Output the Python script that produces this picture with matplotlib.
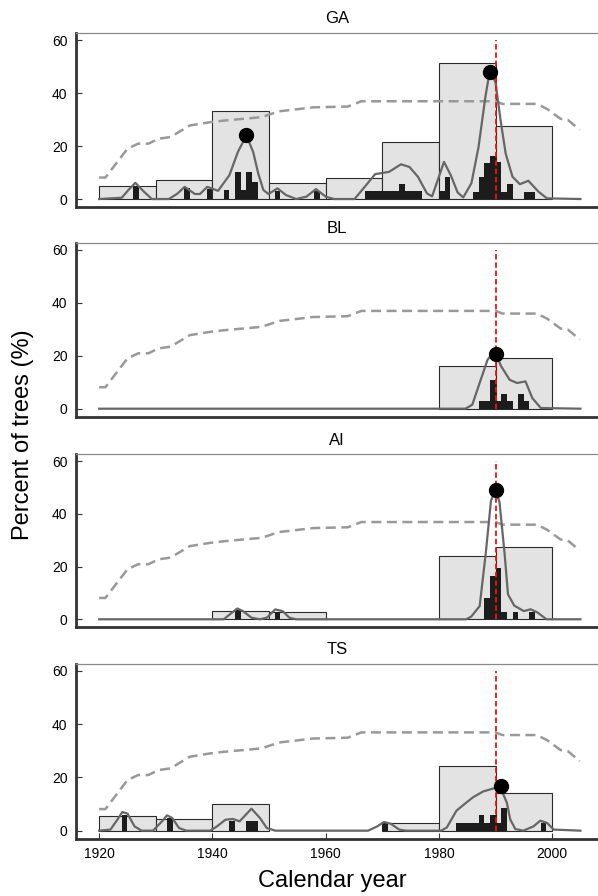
import matplotlib.pyplot as plt

plt.rcParams['font.family'] = ['Liberation Sans', 'DejaVu Sans']

# Sites, top to bottom
sites = ['GA', 'BL', 'AI', 'TS']

# Decadal bins (start year of each 10-year bin)
decades = [1920, 1930, 1940, 1950, 1960, 1970, 1980, 1990]
decade_ga = [4.8, 7.1, 33.1, 5.9, 8.1, 21.5, 51.2, 27.6]
decade_bl = [0, 0, 0, 0, 0, 0, 16.1, 19.3]
decade_ai = [0, 0, 3.3, 2.9, 0, 0, 24.1, 27.5]
decade_ts = [5.6, 4.4, 10.0, 0, 0, 2.9, 24.4, 14.1]

# Annual bars
years_ga = [1926, 1935, 1939, 1942, 1944, 1945, 1946, 1947, 1951, 1958,
            1967, 1968, 1969, 1970, 1971, 1972, 1973, 1974, 1975, 1976,
            1980, 1981, 1986, 1987, 1988, 1989, 1990, 1991, 1992, 1995, 1996]
annual_ga = [5.0, 4.0, 3.8, 3.4, 10.3, 3.4, 10.3, 6.5, 3.1, 3.1,
             3.1, 3.1, 3.1, 3.1, 3.1, 3.1, 5.6, 3.1, 3.1, 3.1,
             3.0, 8.4, 2.8, 8.4, 13.7, 16.3, 14.0, 2.8, 5.7, 2.8, 2.8]
years_bl = [1987, 1988, 1989, 1990, 1991, 1992, 1994, 1995]
annual_bl = [2.8, 2.8, 10.7, 2.8, 5.5, 2.8, 5.5, 2.8]
years_ai = [1944, 1951, 1988, 1989, 1990, 1991, 1993, 1996]
annual_ai = [3.4, 2.9, 8.2, 16.4, 19.5, 2.8, 2.8, 2.8]
years_ts = [1924, 1932, 1943, 1946, 1947, 1970, 1983, 1984, 1985, 1986,
            1987, 1988, 1989, 1990, 1991, 1998]
annual_ts = [5.8, 4.6, 3.5, 3.5, 3.5, 3.2, 2.9, 2.9, 2.9, 2.9,
             5.7, 2.9, 5.7, 2.9, 8.6, 2.9]

# Smoothed curves
curve_x_ga = [1920, 1924, 1925.2, 1926.4, 1927.8, 1929.3, 1932.3, 1933.8, 1935.1, 1936.9,
              1937.8, 1939.1, 1941, 1943, 1944.5, 1946, 1947.2, 1948.1, 1949, 1949.9,
              1951.5, 1953, 1954.8, 1956.6, 1958.3, 1960, 1961.5, 1965.1, 1966.9, 1968.75,
              1971.2, 1973.3, 1974.8, 1976.3, 1977.9, 1978.8, 1980.9, 1982.1, 1983.3, 1984.3,
              1985.75, 1987, 1988.2, 1989, 1990, 1990.9, 1991.8, 1993, 1994.3, 1995.8,
              1997.6, 1999.1, 2005]
curve_y_ga = [0, 0.5, 3.5, 6.1, 3.0, 0, 0, 2.0, 4.6, 1.9,
              1.9, 4.6, 3.1, 9.0, 17.75, 24.0, 17.75, 9.6, 3.4, 1.9,
              4.0, 1.5, 0, 0.9, 3.75, 0.9, 0, 0, 4.6, 9.4,
              10.25, 13.1, 12.1, 8.4, 2.1, 1.0, 14.0, 9.0, 2.5, 0.6,
              6.0, 19.6, 38.4, 48.5, 44.0, 29.6, 17.1, 8.4, 5.6, 6.9,
              2.75, 0.25, 0]
curve_x_bl = [1920, 1984.7, 1985.9, 1987.4, 1988.6, 1989.4, 1990.2, 1991, 1992.5, 1993.8,
              1995.3, 1996.5, 1998, 2005]
curve_y_bl = [0, 0, 1.5, 11.0, 18.5, 20.5, 20.0, 16.0, 10.9, 9.7,
              10.3, 4.0, 0.25, 0]
curve_x_ai = [1920, 1942, 1943.3, 1944.4, 1945.4, 1946.9, 1948.4, 1949.6, 1951.1, 1952.4,
              1953.6, 1954.8, 1984.8, 1985.7, 1987.2, 1988.3, 1989.2, 1990, 1990.7, 1991.6,
              1992.2, 1993.3, 1995, 1996.2, 1997.4, 1999, 2005]
curve_y_ai = [0, 0, 2.25, 4.1, 3.1, 0.6, 0, 0.6, 3.75, 3.1,
              0.6, 0, 0, 1.0, 5.0, 25.5, 45.0, 49.0, 44.5, 25.0,
              9.5, 5.2, 3.1, 3.8, 2.6, 0, 0]
curve_x_ts = [1920, 1922, 1923.2, 1924.1, 1925, 1926.25, 1927.5, 1929.5, 1931.1, 1932,
              1932.9, 1934.1, 1935.4, 1939.6, 1940.8, 1942.3, 1943.6, 1944.8, 1946.9, 1948.4,
              1949.6, 1951.1, 1967.5, 1969.1, 1970.3, 1971.5, 1973, 1974.2, 1980.4, 1981.4,
              1983.1, 1984.3, 1986, 1987.8, 1990, 1991.2, 1992, 1992.6, 1993.5, 1994.9,
              1996.7, 1997.9, 1999.1, 2000.3, 2005]
curve_y_ts = [0, 0.4, 4.1, 7.0, 6.4, 1.6, 0, 0, 3.5, 5.75,
              4.75, 1.0, 0, 0, 1.6, 4.1, 4.4, 3.5, 8.25, 4.75,
              1.0, 0, 0, 1.6, 3.25, 2.6, 0.4, 0, 0, 1.2,
              7.5, 9.6, 12.5, 14.7, 16.1, 14.5, 10.5, 4.2, 0.6, 0,
              1.6, 3.75, 2.9, 0.4, 0]

# Peak markers
peak_x_ga = [1946, 1989]
peak_y_ga = [24.3, 48.0]
peak_x_bl = [1990]
peak_y_bl = [20.8]
peak_x_ai = [1990]
peak_y_ai = [49.2]
peak_x_ts = [1991]
peak_y_ts = [16.6]

# Sample depth line (same in every panel)
depth_x = [1920, 1921.1, 1925, 1926.9, 1928.7, 1930.5, 1932.6, 1936, 1939.6, 1942,
           1948.7, 1951.75, 1955.4, 1957.8, 1963.9, 1966.3, 1990, 1991.2, 1997.3, 1999.1,
           2001.5, 2002.75, 2004.9]
depth_y = [8.1, 8.1, 19.0, 20.9, 20.9, 22.75, 23.4, 27.75, 29.0, 29.6,
           30.9, 33.1, 34.0, 34.6, 34.9, 36.9, 36.9, 35.9, 35.9, 34.0,
           30.25, 29.9, 26.1]

ref_year = 1990

decade_vals = [decade_ga, decade_bl, decade_ai, decade_ts]
years_all = [years_ga, years_bl, years_ai, years_ts]
annual_all = [annual_ga, annual_bl, annual_ai, annual_ts]
curves_x = [curve_x_ga, curve_x_bl, curve_x_ai, curve_x_ts]
curves_y = [curve_y_ga, curve_y_bl, curve_y_ai, curve_y_ts]
peaks_x = [peak_x_ga, peak_x_bl, peak_x_ai, peak_x_ts]
peaks_y = [peak_y_ga, peak_y_bl, peak_y_ai, peak_y_ts]

fig = plt.figure(figsize=(5.98, 8.96), dpi=100)

# axes boxes [left, bottom, width, height] in figure fraction
boxes = [[0.127, 0.769, 0.873, 0.194],
         [0.127, 0.535, 0.873, 0.194],
         [0.127, 0.300, 0.873, 0.193],
         [0.127, 0.064, 0.873, 0.195]]

for i, site in enumerate(sites):
    ax = fig.add_axes(boxes[i])

    # decadal bins (skip empty ones)
    dx = [d for d, v in zip(decades, decade_vals[i]) if v > 0]
    dv = [v for v in decade_vals[i] if v > 0]
    ax.bar(dx, dv, width=10, align='edge', color='#e3e3e3', edgecolor='#2b2b2b',
           linewidth=0.8, zorder=1)

    # sample depth
    ax.plot(depth_x, depth_y, color='#999999', linewidth=1.8, dashes=(4, 2.2), zorder=2)

    # annual bars
    ax.bar(years_all[i], annual_all[i], width=1, align='edge', color='#1c1c1c',
           linewidth=0, zorder=3)

    # smoothed curve
    ax.plot(curves_x[i], curves_y[i], color='#666666', linewidth=1.6, zorder=4)

    # reference year
    ax.plot([ref_year, ref_year], [0, 60], color='#ee1111', linewidth=1.3,
            dashes=(3, 1.6), zorder=5)

    # peaks
    ax.plot(peaks_x[i], peaks_y[i], 'o', color='black', markersize=10, zorder=6)

    ax.set_xlim(1915.9, 2008.1)
    ax.set_ylim(-3, 62.6)
    ax.set_yticks([0, 20, 40, 60])
    ax.set_title(site, fontsize=12, pad=7)

    ax.spines['right'].set_visible(False)
    ax.spines['top'].set_color('#888888')
    ax.spines['top'].set_linewidth(0.9)
    ax.spines['left'].set_color('#333333')
    ax.spines['left'].set_linewidth(2)
    ax.spines['bottom'].set_color('#333333')
    ax.spines['bottom'].set_linewidth(2)
    ax.tick_params(axis='y', direction='in', length=4, width=0.8, color='#333333',
                   labelsize=10, pad=6)
    if i == 3:
        ax.set_xticks([1920, 1940, 1960, 1980, 2000])
        ax.tick_params(axis='x', direction='in', length=4, width=0.8, color='#333333',
                       labelsize=10, pad=6)
    else:
        ax.set_xticks([])

fig.text(0.038, 0.515, 'Percent of trees (%)', rotation=90, fontsize=17,
         ha='center', va='center')
fig.text(0.555, 0.017, 'Calendar year', fontsize=17, ha='center', va='center')

plt.savefig('out.png', dpi=100)
